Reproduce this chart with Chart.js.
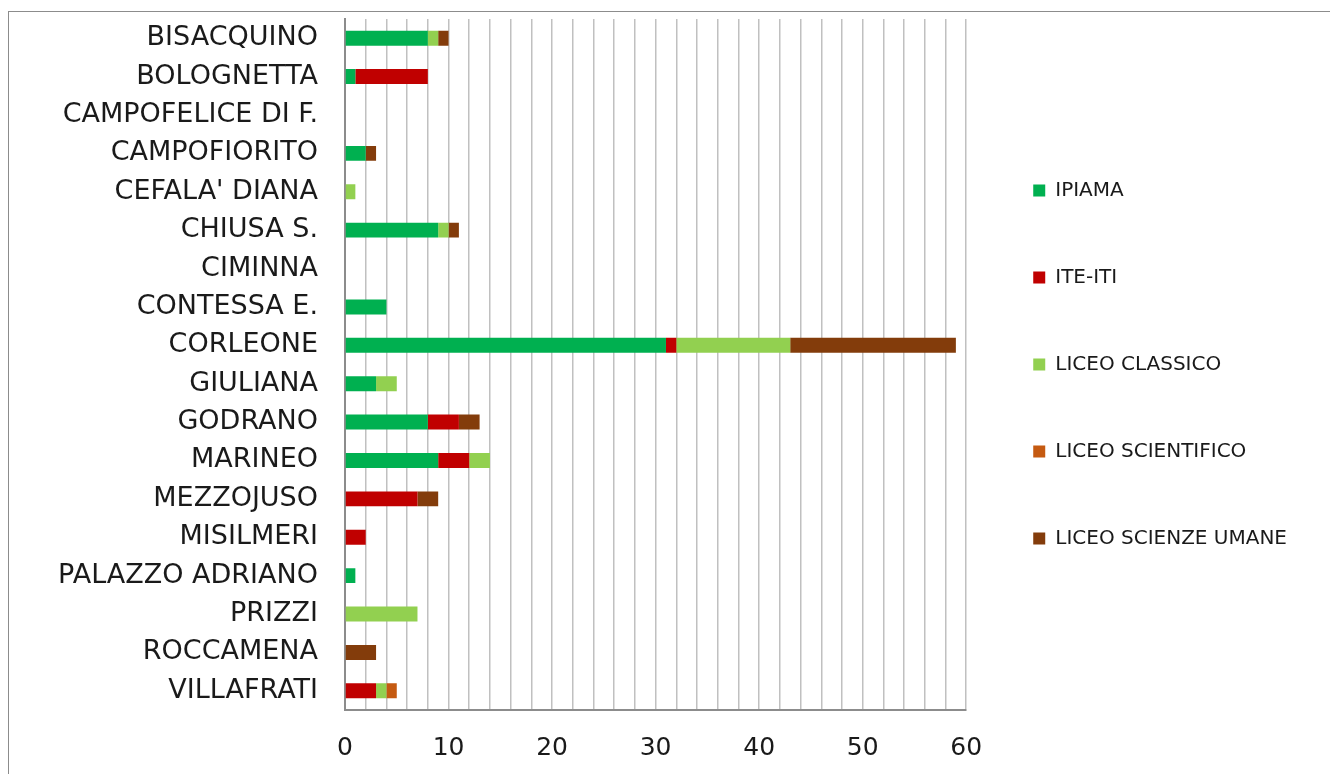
<!DOCTYPE html>
<html>
<head>
<meta charset="utf-8">
<script src="https://cdn.jsdelivr.net/npm/chart.js@4/dist/chart.umd.min.js"></script>
<style>
  html, body { margin: 0; padding: 0; background: #fff; overflow: hidden; }
  #frame { position: absolute; left: 8px; top: 11px; width: 1340px; height: 790px; border: 1px solid #8c8c8c; box-sizing: border-box; }
  #c { position: absolute; left: -200px; top: 0; }
</style>
</head>
<body>
<div id="frame"><canvas id="c" width="1521" height="762" style="width:1521px;height:762px"></canvas></div>
<script>
const categories = ["BISACQUINO","BOLOGNETTA","CAMPOFELICE DI F.","CAMPOFIORITO","CEFALA' DIANA","CHIUSA S.","CIMINNA","CONTESSA E.","CORLEONE","GIULIANA","GODRANO","MARINEO","MEZZOJUSO","MISILMERI","PALAZZO ADRIANO","PRIZZI","ROCCAMENA","VILLAFRATI"];
const seriesNames = ["IPIAMA","ITE-ITI","LICEO CLASSICO","LICEO SCIENTIFICO","LICEO SCIENZE UMANE"];
const ipiama       = [8,1,0,2,0,9,0,4,31,3,8,9,0,0,1,0,0,0];
const iteIti       = [0,7,0,0,0,0,0,0,1,0,3,3,7,2,0,0,0,3];
const liceoClass   = [1,0,0,0,1,1,0,0,11,2,0,2,0,0,0,7,0,1];
const liceoScient  = [0,0,0,0,0,0,0,0,0,0,0,0,0,0,0,0,0,1];
const liceoUmane   = [1,0,0,1,0,1,0,0,16,0,2,0,2,0,0,0,3,0];
const xTickLabels  = [0,10,20,30,40,50,60];
const colors = ["#00B050","#C00000","#92D050","#C55A11","#833C0B"];

const values = [ipiama, iteIti, liceoClass, liceoScient, liceoUmane];
const datasets = seriesNames.map((n,i)=>({
  label: n,
  data: values[i],
  backgroundColor: colors[i],
  borderWidth: 0,
  barPercentage: 0.39,
  categoryPercentage: 1.0
}));

new Chart(document.getElementById('c'), {
  type: 'bar',
  data: { labels: categories, datasets },
  options: {
    indexAxis: 'y',
    responsive: false,
    animation: false,
    layout: { padding: { top: 7, right: 33, bottom: 0, left: 0 } },
    scales: {
      x: {
        stacked: true,
        min: 0, max: 60,
        afterFit: s => { s.height = 64; },
        grid: { color: '#c0c0c0', lineWidth: 1.5, drawTicks: false },
        border: { color: '#8c8c8c', width: 2 },
        ticks: {
          stepSize: 2, autoSkip: false, maxRotation: 0, padding: 23,
          color: '#1a1a1a',
          font: { family: 'DejaVu Sans', size: 25 },
          callback: v => xTickLabels.includes(v) ? String(v) : ''
        }
      },
      y: {
        stacked: true,
        afterFit: s => { s.width = 536; s.paddingTop = 0; s.paddingBottom = 0; },
        grid: { display: false, drawTicks: false },
        border: { color: '#8c8c8c', width: 2 },
        ticks: {
          padding: 27, autoSkip: false,
          color: '#1a1a1a',
          font: { family: 'DejaVu Sans', size: 27 }
        }
      }
    },
    plugins: {
      tooltip: { enabled: false },
      legend: {
        position: 'right',
        fullSize: false,
        align: 'center',
        labels: {
          boxWidth: 12, boxHeight: 12, padding: 67,
          color: '#1a1a1a',
          font: { family: 'DejaVu Sans', size: 20 }
        }
      }
    }
  }
});
</script>
</body>
</html>
